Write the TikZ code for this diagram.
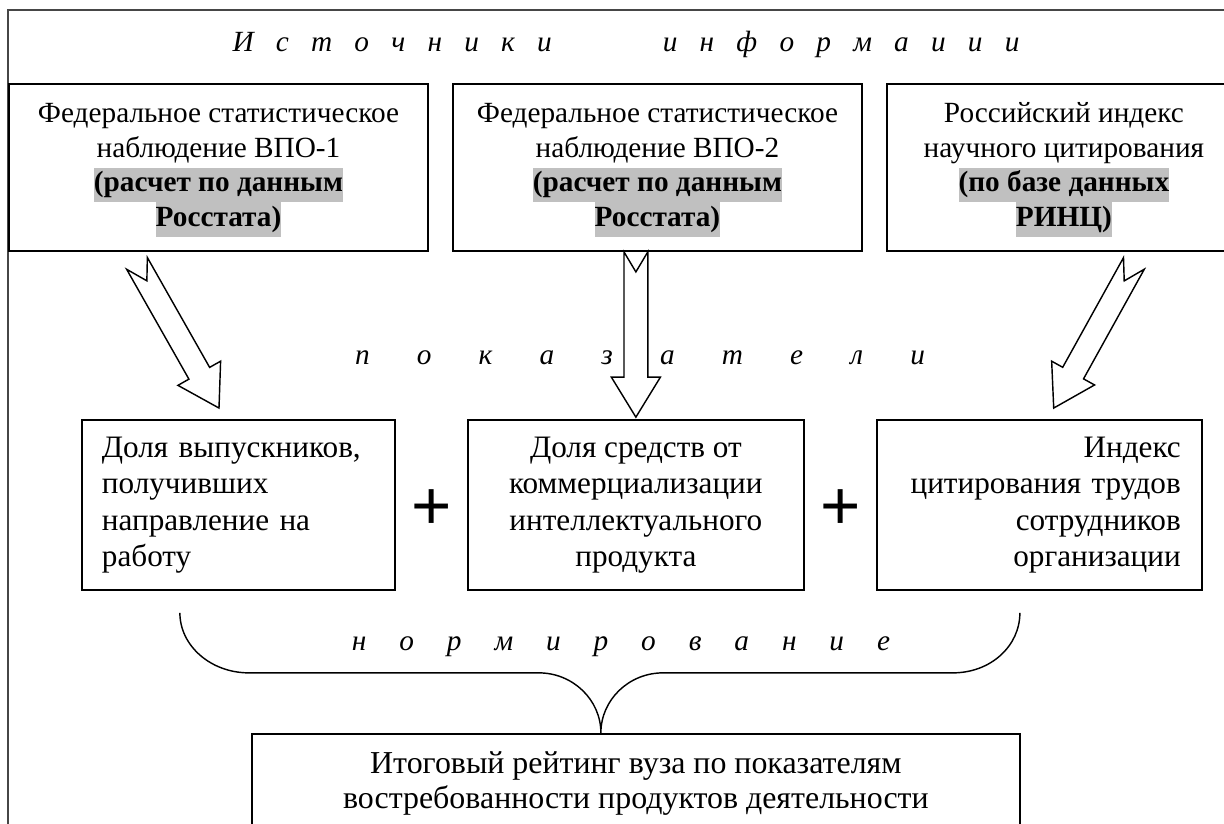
\documentclass[tikz,border=0pt]{standalone}
\usepackage{fontspec}
\setmainfont{Liberation Serif}
\newfontfamily\plusfont{Liberation Sans}
\usepackage{xcolor}
\usetikzlibrary{positioning,calc}

\definecolor{hlgray}{RGB}{192,192,192}
\definecolor{framegray}{RGB}{70,70,70}
\newcommand{\hl}[1]{{\setlength{\fboxsep}{0pt}\colorbox{hlgray}{\strut\textbf{#1}}}}
\newcommand{\spread}[2]{\makebox[#1][s]{\itshape #2}}
\newcommand{\fatarrow}[2]{%
  \path ($(#2)!16.8pt!(#1)$) coordinate (fah)
        ($(#1)!8.4pt!(#2)$) coordinate (fan);
  \draw[fatarrow] ($(#1)!5pt!90:(#2)$) -- ($(fah)!5pt!-90:(#1)$)
    -- ($(fah)!10.3pt!-90:(#1)$) -- (#2) -- ($(fah)!10.3pt!90:(#1)$)
    -- ($(fah)!5pt!90:(#1)$) -- ($(#1)!5pt!-90:(#2)$) -- (fan) -- cycle;}

\tikzset{
  srcbox/.style={draw, line width=0.8pt, align=center, minimum height=70.1pt,
    inner sep=2pt, font=\fontsize{12.3}{14.6}\selectfont},
  indbox/.style={draw, line width=0.8pt, minimum height=71.4pt,
    font=\fontsize{13.1}{15.3}\selectfont},
  fatarrow/.style={draw, fill=white, line width=0.6pt, line join=miter},
  lbl/.style={inner sep=0pt, font=\fontsize{12.3}{14}\selectfont},
  plus/.style={inner sep=0pt, font=\plusfont\fontsize{29}{29}\selectfont},
  brace/.style={draw, line width=0.6pt}
}

\begin{document}
\begin{tikzpicture}[x=0.42pt,y=0.42pt]
  \useasboundingbox (0,0) rectangle (1224,-823);
  \clip (0,0) rectangle (1224,-823);
  \draw[framegray, line width=0.8pt] (8,-10) rectangle (1240,-870);

  \node[lbl] (title) at (626,-44) {\spread{330.5pt}{И с т о ч н и к и~~~~~и н ф о р м а и и и}};

  \node[srcbox, minimum width=176pt] (src1) at (218.5,-167.5)
    {\strut Федеральное статистическое\\ наблюдение ВПО-1\\ \hl{(расчет по данным}\\ \hl{Росстата)}};
  \node[srcbox, minimum width=171.8pt] (src2) [right=9.66pt of src1]
    {\strut Федеральное статистическое\\ наблюдение ВПО-2\\ \hl{(расчет по данным}\\ \hl{Росстата)}};
  \node[srcbox, minimum width=148.7pt] (src3) [right=9.66pt of src2]
    {\strut Российский индекс\\ научного цитирования\\ \hl{(по базе данных}\\ \hl{РИНЦ)}};

  \node[lbl] (ind) at (640,-358) {\spread{239.4pt}{п о к а з а т е л и}};

  \node[indbox, text width=114.7pt, inner xsep=8.4pt, align=left] (ind1) at (238.5,-505)
    {Доля выпускников,\\ получивших\\ направление на\\ работу};
  \node[indbox, minimum width=141.1pt, align=center] (ind2) [right=29.8pt of ind1]
    {Доля средств от\\ коммерциализации\\ интеллектуального\\ продукта};
  \node[indbox, text width=118.9pt, inner xsep=8.8pt, align=right] (ind3) [right=29.8pt of ind2]
    {Индекс\\ цитирования трудов\\ сотрудников\\ организации};
  \node[plus] (plus1) at ([yshift=-2pt]$(ind1.east)!0.5!(ind2.west)$) {+};
  \node[plus] (plus2) at ([yshift=-2pt]$(ind2.east)!0.5!(ind3.west)$) {+};

  \coordinate (a1s) at ([shift={(-81.5,-11.5)}]src1.south);
  \coordinate (a1e) at ([shift={(-19.5,11)}]ind1.north);
  \coordinate (a2s) at (src2.south -| ind2.north);
  \coordinate (a2e) at ([yshift=0.8pt]ind2.north);
  \coordinate (a3s) at ([shift={(70,-11.5)}]src3.south);
  \coordinate (a3e) at ([shift={(14.5,11)}]ind3.north);
  \fatarrow{a1s}{a1e}
  \fatarrow{a2s}{a2e}
  \fatarrow{a3s}{a3e}

  \node[lbl] (norm) at (621,-647) {\spread{226pt}{н о р м и р о в а н и е}};

  \node[draw, line width=0.8pt, minimum width=322.6pt, inner ysep=7.5pt, align=center,
    font=\fontsize{13.4}{14.6}\selectfont] (final) [below=59.6pt of ind2]
    {Итоговый рейтинг вуза по показателям\\ востребованности продуктов деятельности\\[6pt]};

  \coordinate (brtip) at ([xshift=-14.7pt]final.north);
  \begin{scope}[shift={(brtip)}]
    \draw[brace] (-421,120) .. controls (-421,87) and (-390,60) .. (-352,60) -- (-62,60)
      .. controls (-28,60) and (0,33) .. (0,0) .. controls (0,33) and (28,60) .. (62,60)
      -- (352,60) .. controls (390,60) and (419,87) .. (419,120);
  \end{scope}
\end{tikzpicture}
\end{document}
